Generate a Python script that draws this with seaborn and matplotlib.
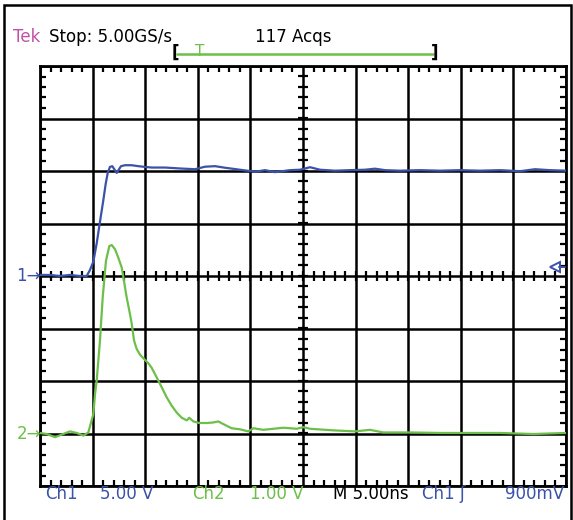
import numpy as np
import pandas as pd
import matplotlib
matplotlib.use('Agg')
import matplotlib.pyplot as plt
import seaborn as sns
from matplotlib.patches import Rectangle
from matplotlib.lines import Line2D
from matplotlib.ticker import MultipleLocator

# Ch1 (5.00 V/div, position 0 div) - time in ns, level in V
ch1_t = [0, 0.95, 1.90, 2.85, 3.80, 4.44, 4.75, 5.07, 5.39, 5.70, 6.02, 6.25, 6.44,
         6.65, 6.87, 7.29, 7.70, 8.08, 8.72, 9.34, 9.98, 10.62, 11.88, 13.31, 14.73,
         15.69, 16.64, 17.59, 19.01, 20.44, 21.39, 22.34, 23.76, 24.71, 25.67, 26.62,
         28.04, 29.47, 30.89, 31.84, 32.80, 34.22, 36.12, 38.02, 39.92, 41.83, 43.73,
         45.63, 47.05, 48.48, 50.0]
ch1_v = [0.1, 0.1, 0.0, 0.1, 0.0, 0.0, 0.57, 1.36, 3.11, 5.16, 7.22, 8.81, 9.82,
         10.39, 10.46, 9.82, 10.46, 10.55, 10.55, 10.46, 10.39, 10.33, 10.33, 10.24, 10.17,
         10.41, 10.46, 10.31, 10.12, 9.93, 10.08, 9.89, 10.08, 10.12, 10.36, 10.12,
         10.03, 10.08, 10.12, 10.22, 10.08, 10.03, 10.08, 10.03, 10.08, 10.03, 10.08,
         9.98, 10.17, 10.08, 10.03]

# Ch2 (1.00 V/div, position -3 div)
ch2_t = [0, 0.64, 1.43, 2.06, 2.85, 3.49, 4.12, 4.59, 4.91, 5.07, 5.23, 5.39, 5.70,
         5.96, 6.27, 6.59, 6.82, 7.13, 7.44, 7.77, 7.98, 8.24, 8.49, 8.72, 8.94, 9.19,
         9.51, 9.89, 10.29, 10.62, 11.09, 11.57, 12.04, 12.52, 12.99, 13.47, 13.95,
         14.19, 14.57, 15.14, 15.85, 16.47, 16.95, 17.42, 18.22, 19.01, 19.80, 20.28,
         21.23, 22.18, 23.13, 24.40, 25.03, 25.67, 27.88, 29.94, 31.37, 32.63, 35.17,
         38.02, 40.56, 43.73, 46.89, 50.0]
ch2_v = [0.01, -0.01, -0.07, -0.02, 0.04, 0.01, -0.04, 0.02, 0.25, 0.37, 0.75, 1.01, 1.77,
         2.59, 3.29, 3.57, 3.59, 3.51, 3.35, 3.16, 2.91, 2.59, 2.34, 2.09, 1.77, 1.61,
         1.50, 1.42, 1.34, 1.25, 1.07, 0.88, 0.69, 0.53, 0.40, 0.30, 0.25,
         0.30, 0.23, 0.20, 0.20, 0.21, 0.23, 0.18, 0.10, 0.08, 0.04, 0.10,
         0.07, 0.09, 0.11, 0.09, 0.12, 0.09, 0.06, 0.04, 0.07, 0.02, 0.02,
         0.01, 0.01, 0.01, -0.01, 0.01]

ch1_scale, ch1_pos = 5.0, 0.0
ch2_scale, ch2_pos = 1.0, -3.0
trig_level = 0.9  # V on Ch1

bottom_labels = [("Ch1", 45, "blue"), ("5.00 V", 100, "blue"), ("Ch2", 192, "green"),
                 ("1.00 V", 250, "green"), ("M 5.00ns", 333, "black"),
                 ("Ch1 \u0283", 422, "blue"), ("900mV", 505, "blue")]

BLUE = '#3a52a8'
GREEN = '#6cbf48'
TEK = '#c052a5'
colors = {"blue": BLUE, "green": GREEN, "black": "black"}
FS = 12

W, H = 573, 520

def fx(x):
    return x / W

def fy(y):
    return 1 - y / H

sns.set_style("white")
plt.rcParams['font.family'] = ['DejaVu Sans']

fig = plt.figure(figsize=(W / 100, H / 100), dpi=100)
ax = fig.add_axes([fx(40), fy(486), fx(566) - fx(40), fy(66) - fy(486)])

df1 = pd.DataFrame({"t": ch1_t, "div": np.array(ch1_v) / ch1_scale + ch1_pos})
df2 = pd.DataFrame({"t": ch2_t, "div": np.array(ch2_v) / ch2_scale + ch2_pos})
sns.lineplot(data=df2, x="t", y="div", color=GREEN, lw=1.6, sort=False, estimator=None, ax=ax, zorder=3)
sns.lineplot(data=df1, x="t", y="div", color=BLUE, lw=1.6, sort=False, estimator=None, ax=ax, zorder=3)

ax.set_xlim(0, 50)
ax.set_ylim(-4, 4)
ax.xaxis.set_major_locator(MultipleLocator(5))
ax.yaxis.set_major_locator(MultipleLocator(1))
ax.xaxis.set_minor_locator(MultipleLocator(1))
ax.yaxis.set_minor_locator(MultipleLocator(0.2))
ax.grid(True, which='major', color='black', lw=1.8)
ax.set_axisbelow(True)
ax.tick_params(which='major', length=0, labelbottom=False, labelleft=False)
ax.tick_params(which='minor', direction='in', length=4, width=1.6, color='black',
               top=True, right=True, bottom=True, left=True)
for s in ax.spines.values():
    s.set_color('black')
    s.set_linewidth(2.0)
ax.set_xlabel("")
ax.set_ylabel("")

# ticks on the centre lines
xm = np.arange(1, 50, 1)
ym = np.arange(-3.8, 4, 0.2)
ax.plot(xm, np.zeros_like(xm), ls='none', marker='|', ms=7, mew=1.6, color='black', zorder=2)
ax.plot(np.full_like(ym, 25), ym, ls='none', marker='_', ms=7, mew=1.6, color='black', zorder=2)

# trigger level marker on the right edge
ax.plot([48.95], [trig_level / ch1_scale + ch1_pos], marker='<', ms=7, mfc='white',
        mec=BLUE, mew=1.4, zorder=4, clip_on=False)
ax.plot([49.3, 49.9], [trig_level / ch1_scale + ch1_pos] * 2, color=BLUE, lw=1.4, zorder=4)

# channel ground markers
fig.text(fx(41), fy(276), "1\u2192", color=BLUE, fontsize=FS, ha='right', va='center')
fig.text(fx(41), fy(434), "2\u2192", color=GREEN, fontsize=FS, ha='right', va='center')

# header
fig.text(fx(13), fy(37), "Tek", color=TEK, fontsize=FS, ha='left', va='center')
fig.text(fx(49), fy(37), "Stop: 5.00GS/s", color='black', fontsize=FS, ha='left', va='center')
fig.text(fx(255), fy(37), "117 Acqs", color='black', fontsize=FS, ha='left', va='center')
fig.text(fx(175), fy(53), "[", color='black', fontsize=FS, ha='center', va='center', fontweight='bold')
fig.text(fx(435), fy(53), "]", color='black', fontsize=FS, ha='center', va='center', fontweight='bold')
fig.add_artist(Line2D([fx(177), fx(433)], [fy(54), fy(54)], color=GREEN, lw=1.8))
fig.text(fx(200), fy(51), "T", color=GREEN, fontsize=11, ha='center', va='center')

# footer
for txt, x, c in bottom_labels:
    fig.text(fx(x), fy(494), txt, color=colors[c], fontsize=FS, ha='left', va='center')

# outer frame
fig.add_artist(Rectangle((fx(4), -0.02), fx(567), fy(5) + 0.02, fill=False,
                         edgecolor='black', lw=1.8))

fig.savefig('out.png', dpi=100, facecolor='white')
